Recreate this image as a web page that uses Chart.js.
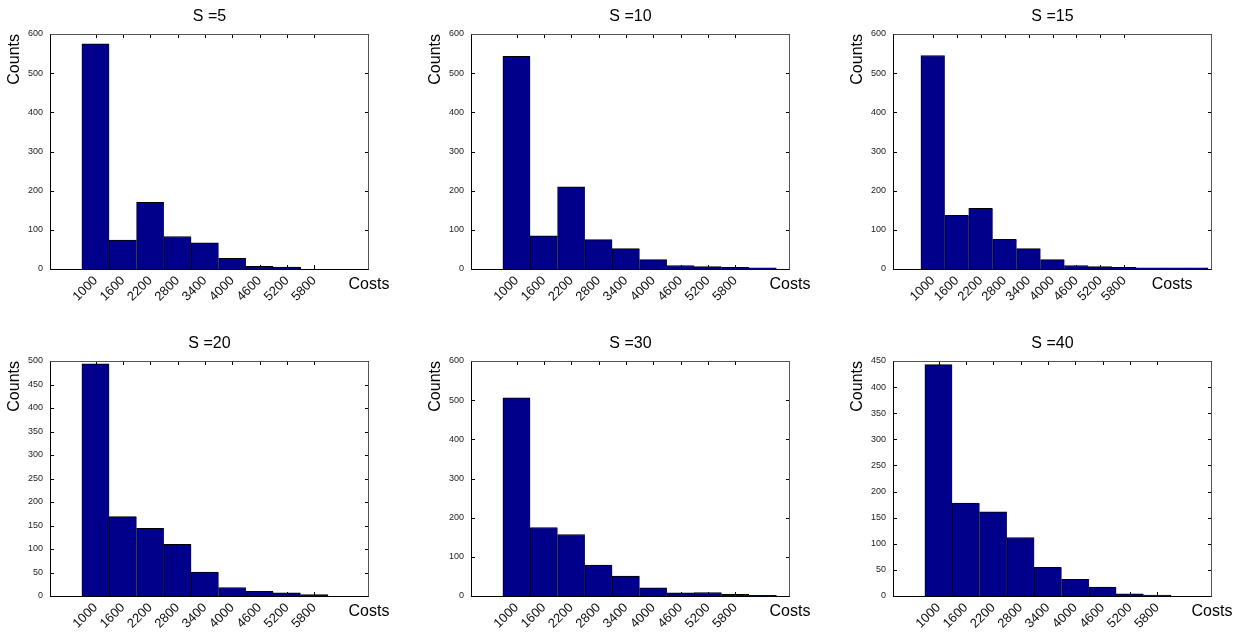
<!DOCTYPE html>
<html>
<head>
<meta charset="utf-8">
<script src="https://cdn.jsdelivr.net/npm/chart.js@4.4.1/dist/chart.umd.min.js"></script>
<style>
html,body{margin:0;padding:0;background:#fff;overflow:hidden;}
#wrap{position:relative;width:1239px;height:636px;overflow:hidden;background:#fff;}
#wrap canvas{position:absolute;}
</style>
</head>
<body>
<div id="wrap"></div>
<script>
// ---- data ----
const binCenters = [1000, 1600, 2200, 2800, 3400, 4000, 4600, 5200, 5800, 6400, 7000, 7600];
const xTickValues = [1000, 1600, 2200, 2800, 3400, 4000, 4600, 5200, 5800];
const panelTitles = ['S =5', 'S =10', 'S =15', 'S =20', 'S =30', 'S =40'];
const countsS5  = [575, 74, 170, 83, 67, 27, 7, 5];
const countsS10 = [543, 85, 210, 75, 52, 24, 9, 6, 4, 3];
const countsS15 = [545, 137, 155, 76, 52, 24, 9, 6, 4, 3, 3, 3];
const countsS20 = [494, 169, 144, 110, 51, 18, 10, 7, 3];
const countsS30 = [506, 175, 157, 79, 51, 21, 8, 9, 4, 2];
const countsS40 = [443, 178, 161, 112, 55, 32, 17, 4, 2];
const xMaxes = [7000, 7000, 8000, 7000, 7000, 7000];
const yMaxes = [600, 600, 600, 500, 600, 450];
const yStepSizes = [100, 100, 100, 50, 100, 50];
const xLabelText = 'Costs';
const xLabelAt = 7000;
const yLabelText = 'Counts';

// ---- layout ----
const plotLefts = [50, 471, 893];
const plotTops = [34, 361];
const plotW = 319, plotH = 235;
const sideW = 50, titleH = 34, bottomH = 50;
const FONT = '"Liberation Sans", Arial, sans-serif';
Chart.defaults.font.family = FONT;

const axisBoxPlugin = {
  id: 'axisBox',
  beforeDatasetsDraw(chart) {
    const {ctx, chartArea: a, scales: {x, y}} = chart;
    const tl = 4;
    ctx.save();
    ctx.strokeStyle = '#000';
    ctx.lineWidth = 1;
    ctx.beginPath();
    x.ticks.forEach(t => {
      const px = Math.round(x.getPixelForValue(t.value)) + 0.5;
      ctx.moveTo(px, a.bottom); ctx.lineTo(px, a.bottom - tl);
      ctx.moveTo(px, a.top); ctx.lineTo(px, a.top + tl);
    });
    y.ticks.forEach(t => {
      const py = Math.round(y.getPixelForValue(t.value)) + 0.5;
      ctx.moveTo(a.left, py); ctx.lineTo(a.left + tl, py);
      ctx.moveTo(a.right, py); ctx.lineTo(a.right - tl, py);
    });
    ctx.stroke();
    ctx.beginPath();
    ctx.moveTo(a.left + 0.5, a.top + 0.5);
    ctx.lineTo(a.left + 0.5, a.bottom + 0.5);
    ctx.lineTo(a.right - 0.5, a.bottom + 0.5);
    ctx.stroke();
    ctx.strokeStyle = '#555';
    ctx.beginPath();
    ctx.moveTo(a.left + 0.5, a.top + 0.5);
    ctx.lineTo(a.right - 0.5, a.top + 0.5);
    ctx.lineTo(a.right - 0.5, a.bottom + 0.5);
    ctx.stroke();
    ctx.restore();
  },
  afterDraw(chart) {
    const {ctx, chartArea: a, scales: {x}} = chart;
    ctx.save();
    ctx.fillStyle = '#000';
    ctx.font = '16px ' + FONT;
    ctx.textAlign = 'center';
    ctx.textBaseline = 'middle';
    ctx.fillText(xLabelText, x.getPixelForValue(xLabelAt), a.bottom + 16);
    ctx.restore();
  }
};

const allCounts = [countsS5, countsS10, countsS15, countsS20, countsS30, countsS40];
const wrap = document.getElementById('wrap');

allCounts.forEach((counts, i) => {
  const col = i % 3, row = Math.floor(i / 3);
  const canvas = document.createElement('canvas');
  const W = plotW + 2 * sideW, H = plotH + titleH + bottomH;
  canvas.width = W; canvas.height = H;
  canvas.style.width = W + 'px'; canvas.style.height = H + 'px';
  canvas.style.left = (plotLefts[col] - sideW) + 'px';
  canvas.style.top = (plotTops[row] - titleH) + 'px';
  wrap.appendChild(canvas);
  const last = counts.length - 1;
  new Chart(canvas, {
    type: 'bar',
    data: {
      datasets: [{
        data: counts.map((c, k) => ({x: binCenters[k], y: c})),
        backgroundColor: '#00008B',
        borderColor: '#000',
        borderWidth: ctx => ({top: 1, left: 1, bottom: 0, right: ctx.dataIndex === last ? 1 : 0}),
        borderSkipped: false,
        barPercentage: 1,
        categoryPercentage: 1
      }]
    },
    options: {
      responsive: false,
      animation: false,
      devicePixelRatio: 1,
      layout: {padding: 0, autoPadding: false},
      events: [],
      plugins: {
        legend: {display: false},
        tooltip: {enabled: false},
        title: {
          display: true,
          text: panelTitles[i],
          color: '#000',
          font: {size: 16, weight: 'normal', lineHeight: '20px'},
          padding: {top: 7, bottom: 7}
        }
      },
      scales: {
        x: {
          type: 'linear',
          min: 0,
          max: xMaxes[i],
          offset: false,
          afterFit: s => { s.height = bottomH; },
          afterBuildTicks: s => { s.ticks = xTickValues.map(v => ({value: v})); },
          ticks: {
            autoSkip: false, minRotation: 45, maxRotation: 45, padding: 4,
            color: '#111', font: {size: 13},
            callback: v => String(v)
          },
          grid: {display: false, drawTicks: false},
          border: {display: false}
        },
        y: {
          min: 0,
          max: yMaxes[i],
          afterFit: s => { s.width = sideW; },
          ticks: {stepSize: yStepSizes[i], padding: 7, color: '#222', font: {size: 9}},
          grid: {display: false, drawTicks: false},
          border: {display: false},
          title: {
            display: true, text: yLabelText, align: 'end', color: '#000',
            font: {size: 16, weight: 'normal'}, padding: {top: 5, bottom: 0}
          }
        },
        yRight: {
          position: 'right', min: 0, max: 1,
          afterFit: s => { s.width = sideW; },
          ticks: {display: false},
          grid: {display: false, drawTicks: false},
          border: {display: false}
        }
      }
    },
    plugins: [axisBoxPlugin]
  });
});
</script>
</body>
</html>
